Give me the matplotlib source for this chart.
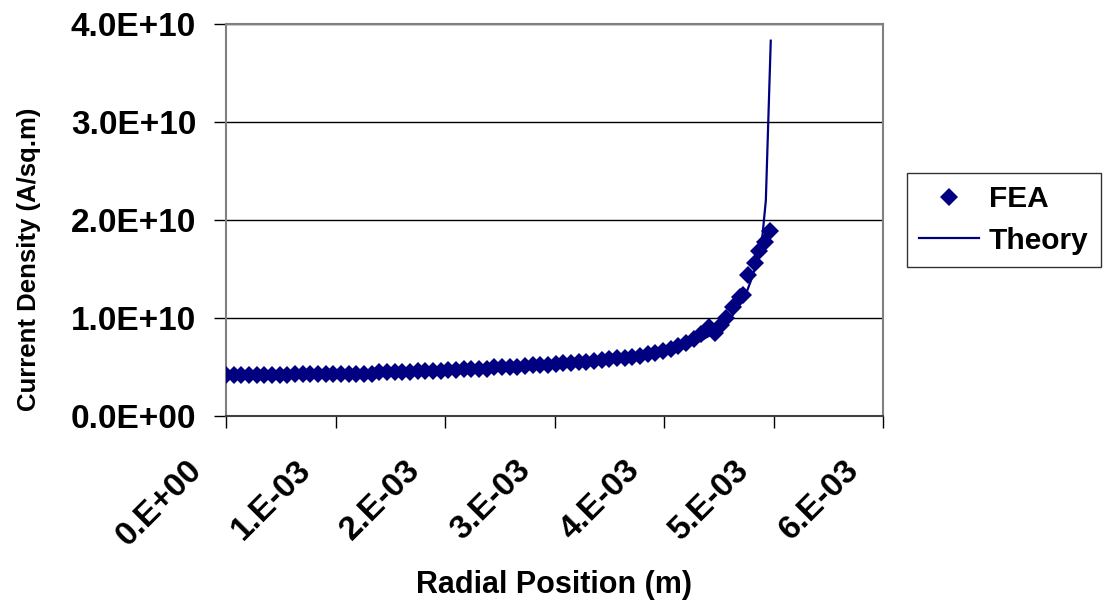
import matplotlib
matplotlib.use("Agg")
import matplotlib.pyplot as plt
import matplotlib.transforms as mtransforms
import numpy as np

# FEA results (radial position in mm, current density in 1E9 A/sq.m)
fea_r_mm = [0.00, 0.07, 0.14, 0.21, 0.28, 0.35, 0.42, 0.49, 0.56, 0.63,
            0.70, 0.77, 0.84, 0.91, 0.98, 1.05, 1.12, 1.19, 1.26, 1.33,
            1.40, 1.47, 1.54, 1.61, 1.68, 1.75, 1.82, 1.89, 1.96, 2.03,
            2.10, 2.17, 2.24, 2.31, 2.38, 2.45, 2.52, 2.59, 2.66, 2.73,
            2.80, 2.87, 2.94, 3.01, 3.08, 3.15, 3.22, 3.29, 3.36, 3.43,
            3.50, 3.57, 3.64, 3.71, 3.78, 3.85, 3.92, 3.99, 4.06, 4.13,
            4.20, 4.27, 4.34, 4.41, 4.47, 4.52, 4.57, 4.63, 4.69, 4.72,
            4.77, 4.83, 4.87, 4.92, 4.97]
fea_j = [4.20, 4.20, 4.21, 4.21, 4.22, 4.22, 4.22, 4.23, 4.23, 4.24,
         4.24, 4.25, 4.25, 4.26, 4.26, 4.27, 4.27, 4.28, 4.29, 4.30,
         4.45, 4.50, 4.51, 4.52, 4.53, 4.55, 4.56, 4.58, 4.60, 4.72,
         4.73, 4.75, 4.77, 4.79, 4.82, 4.98, 5.00, 5.02, 5.05, 5.08,
         5.20, 5.22, 5.25, 5.30, 5.36, 5.42, 5.48, 5.55, 5.62, 5.70,
         5.78, 5.87, 5.96, 6.06, 6.17, 6.30, 6.45, 6.62, 6.85, 7.15,
         7.50, 7.90, 8.40, 9.10, 8.50, 9.30, 10.0, 11.1, 12.1, 12.3,
         14.4, 15.6, 16.8, 17.8, 18.9]

# theoretical curve
theory_r_mm = [0.0, 0.5, 1.0, 1.5, 2.0, 2.5, 3.0, 3.25, 3.5, 3.75, 4.0, 4.1,
               4.2, 4.3, 4.4, 4.5, 4.6, 4.7, 4.75, 4.8, 4.85, 4.9, 4.93, 4.975]
theory_j = [4.2, 4.25, 4.35, 4.5, 4.7, 4.9, 5.15, 5.35, 5.6, 5.95, 6.4, 6.7,
            7.0, 7.5, 8.1, 8.8, 9.9, 11.5, 12.5, 14.0, 15.8, 18.5, 22.0, 38.3]

x_ticks = [0, 1e-3, 2e-3, 3e-3, 4e-3, 5e-3, 6e-3]
x_labels = ["0.E+00", "1.E-03", "2.E-03", "3.E-03", "4.E-03", "5.E-03", "6.E-03"]
y_ticks = [0, 1e10, 2e10, 3e10, 4e10]
y_labels = ["0.0E+00", "1.0E+10", "2.0E+10", "3.0E+10", "4.0E+10"]

plt.rcParams['font.family'] = ['Liberation Sans', 'DejaVu Sans']
plt.rcParams['font.weight'] = 'bold'

navy = '#000080'

fig = plt.figure(figsize=(11.05, 6.06), dpi=100)
ax = fig.add_axes([226/1105, 1 - 416/606, (883-226)/1105, (416-24)/606])

ax.plot(np.array(fea_r_mm) * 1e-3, np.array(fea_j) * 1e9, linestyle='none',
        marker='D', markersize=9.5, color=navy, markeredgewidth=0, label='FEA', zorder=3)
ax.plot(np.array(theory_r_mm) * 1e-3, np.array(theory_j) * 1e9, color=navy,
        linewidth=1.6, label='Theory', zorder=4)

ax.set_xlim(0, 6e-3)
ax.set_ylim(0, 4e10)
ax.set_xticks(x_ticks)
ax.set_xticklabels(x_labels, rotation=45, ha='right', va='center',
                   rotation_mode='anchor', fontsize=24, fontweight='bold')
ax.set_yticks(y_ticks)
ax.set_yticklabels(y_labels, fontsize=24, fontweight='bold')
ax.grid(axis='y', color='black', linewidth=1.0)
ax.set_axisbelow(True)
ax.tick_params(axis='both', direction='out', length=8.5, width=1, color='black')
ax.tick_params(axis='y', pad=13)
ax.tick_params(axis='x', pad=0)

# shift rotated x labels down-left like the original
shift = mtransforms.ScaledTranslation(-29/100, -38/100, fig.dpi_scale_trans)
for lab in ax.get_xticklabels():
    lab.set_transform(lab.get_transform() + shift)

for side in ['top', 'right', 'left']:
    ax.spines[side].set_color('#808080')
    ax.spines[side].set_linewidth(1.5)
ax.spines['bottom'].set_color('#404040')
ax.spines['bottom'].set_linewidth(1.5)

ax.set_xlabel("Radial Position (m)", fontsize=22, fontweight='bold', va='center')
ax.xaxis.set_label_coords(0.5, (416 - 585) / 392)
ax.set_ylabel("Current Density (A/sq.m)", fontsize=18.5, fontweight='bold', va='center')
ax.yaxis.set_label_coords((29 - 226) / 657, (416 - 259) / 392)

leg = fig.legend(loc='center left', bbox_to_anchor=(907/1105, 1 - 220/606),
                 fontsize=21.5, frameon=True, fancybox=False, edgecolor='black',
                 handlelength=2.0, borderpad=0.4, labelspacing=0.45, handletextpad=0.35,
                 borderaxespad=0)
leg.get_frame().set_linewidth(1.0)
for t in leg.get_texts():
    t.set_fontweight('bold')

fig.savefig('out.png', dpi=100)
